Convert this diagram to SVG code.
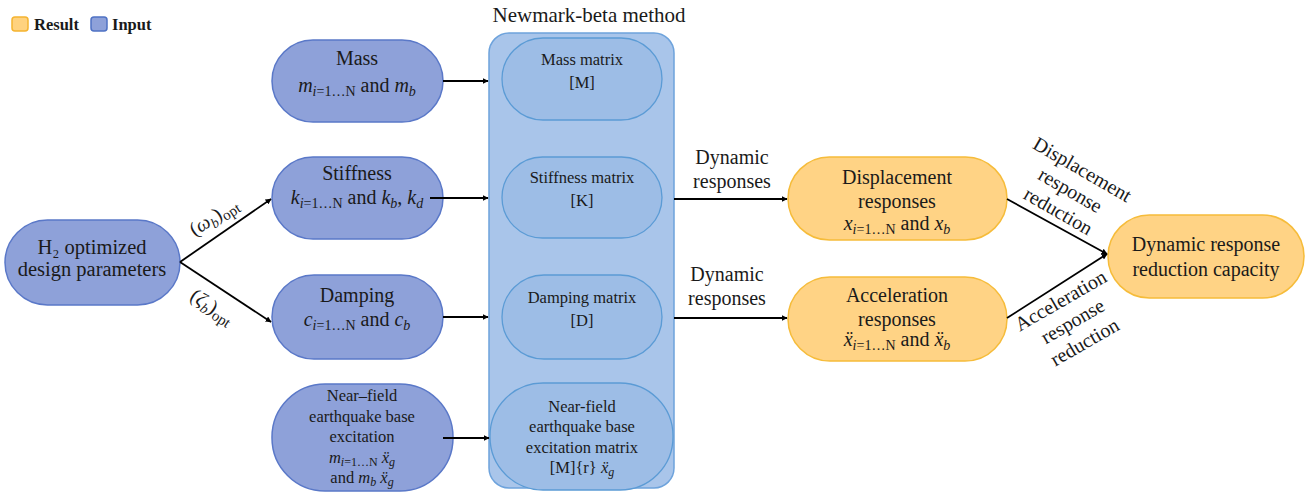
<svg xmlns="http://www.w3.org/2000/svg" width="1306" height="496" viewBox="0 0 1306 496" font-family="'Liberation Serif', Tinos, 'Times New Roman', 'DejaVu Serif', serif">
<style>
text{font-family:"Liberation Serif",Tinos,"Times New Roman","DejaVu Serif",serif;fill:#1a1a1a}
.t20{font-size:20px}
.t16{font-size:16.5px}
.mi{font-style:italic}
.inp{fill:#8EA1D9;stroke:#5A78C8;stroke-width:1.5}
.res{fill:#FFD385;stroke:#F6BC3A;stroke-width:1.5}
.mat{fill:#9DBDE6;stroke:#5B9BD5;stroke-width:1.3}
.box{fill:#A9C5EA;stroke:#6EA3DC;stroke-width:1.5}
.c{stroke:#000;stroke-width:1.8;fill:none;marker-end:url(#ah)}
</style>
<defs>
<marker id="ah" viewBox="0 0 10 10" refX="9" refY="5" markerWidth="6" markerHeight="6" orient="auto" markerUnits="userSpaceOnUse">
<path d="M0,0 L10,5 L0,10 z" fill="#000"/>
</marker>
</defs>
<rect width="1306" height="496" fill="#fff"/>

<g id="legend">
<rect x="12" y="17" width="16" height="14" rx="3" fill="#FFD27F" stroke="#F5B431" stroke-width="1.5"/>
<text x="34" y="30" font-size="16.5" font-weight="bold">Result</text>
<rect x="91" y="17" width="16" height="14" rx="3" fill="#8EA1D9" stroke="#4F72C4" stroke-width="1.5"/>
<text x="112" y="30" font-size="16.5" font-weight="bold">Input</text>
</g>

<g id="newmark">
<rect class="box" x="489" y="33" width="185" height="455" rx="20"/>
<text x="589" y="22" font-size="21" text-anchor="middle">Newmark-beta method</text>
</g>

<g id="h2">
<rect class="inp" x="5" y="220" width="175" height="85" rx="42.5"/>
<text x="92" y="254" text-anchor="middle" font-size="20.5">H₂ optimized</text>
<text x="92" y="276" text-anchor="middle" font-size="20.5">design parameters</text>
</g>

<g id="mass">
<rect class="inp" x="272" y="40" width="171" height="82" rx="41"/>
<text class="t20" x="357" y="65" text-anchor="middle">Mass</text>
<text class="t20" x="357" y="92" text-anchor="middle"><tspan class="mi">m</tspan><tspan font-size="14" dy="4"><tspan class="mi">i</tspan>=1…N</tspan><tspan dy="-4"> and </tspan><tspan class="mi">m</tspan><tspan class="mi" font-size="14" dy="4">b</tspan></text>
</g>

<g id="stiffness">
<rect class="inp" x="272" y="157" width="171" height="82" rx="41"/>
<text class="t20" x="357" y="180" text-anchor="middle">Stiffness</text>
<text class="t20" x="357" y="204" text-anchor="middle"><tspan class="mi">k</tspan><tspan font-size="14" dy="4"><tspan class="mi">i</tspan>=1…N</tspan><tspan dy="-4"> and </tspan><tspan class="mi">k</tspan><tspan class="mi" font-size="14" dy="4">b</tspan><tspan dy="-4">, </tspan><tspan class="mi">k</tspan><tspan class="mi" font-size="14" dy="4">d</tspan></text>
</g>

<g id="damping">
<rect class="inp" x="272" y="275" width="171" height="84" rx="42"/>
<text class="t20" x="357" y="302" text-anchor="middle">Damping</text>
<text class="t20" x="357" y="326" text-anchor="middle"><tspan class="mi">c</tspan><tspan font-size="14" dy="4"><tspan class="mi">i</tspan>=1…N</tspan><tspan dy="-4"> and </tspan><tspan class="mi">c</tspan><tspan class="mi" font-size="14" dy="4">b</tspan></text>
</g>

<g id="nearfield">
<rect class="inp" x="272" y="384" width="181" height="107" rx="53"/>
<text class="t16" x="362" y="401" text-anchor="middle">Near–field</text>
<text class="t16" x="362" y="422" text-anchor="middle">earthquake base</text>
<text class="t16" x="362" y="442" text-anchor="middle">excitation</text>
<text class="t16" x="362" y="463" text-anchor="middle"><tspan class="mi">m</tspan><tspan font-size="12" dy="3"><tspan class="mi">i</tspan>=1…N</tspan><tspan dy="-3"> </tspan><tspan class="mi">ẍ</tspan><tspan class="mi" font-size="12" dy="3">g</tspan></text>
<text class="t16" x="362" y="483" text-anchor="middle">and <tspan class="mi">m</tspan><tspan class="mi" font-size="12" dy="3">b</tspan><tspan dy="-3"> </tspan><tspan class="mi">ẍ</tspan><tspan class="mi" font-size="12" dy="3">g</tspan></text>
</g>

<g id="massmatrix">
<rect class="mat" x="502" y="38" width="160" height="82" rx="41"/>
<text class="t16" x="582" y="65" text-anchor="middle">Mass matrix</text>
<text class="t16" x="582" y="88" text-anchor="middle">[M]</text>
</g>

<g id="stiffmatrix">
<rect class="mat" x="502" y="157" width="160" height="81" rx="40.5"/>
<text class="t16" x="582" y="183" text-anchor="middle">Stiffness matrix</text>
<text class="t16" x="582" y="206" text-anchor="middle">[K]</text>
</g>

<g id="dampmatrix">
<rect class="mat" x="502" y="275" width="160" height="84" rx="42"/>
<text class="t16" x="582" y="303" text-anchor="middle">Damping matrix</text>
<text class="t16" x="582" y="326" text-anchor="middle">[D]</text>
</g>

<g id="nfmatrix">
<rect class="mat" x="490" y="383" width="183" height="107" rx="53"/>
<text class="t16" x="582" y="412" text-anchor="middle">Near-field</text>
<text class="t16" x="582" y="432" text-anchor="middle">earthquake base</text>
<text class="t16" x="582" y="453" text-anchor="middle">excitation matrix</text>
<text class="t16" x="582" y="473" text-anchor="middle">[M]{r} <tspan class="mi">ẍ</tspan><tspan class="mi" font-size="12" dy="3">g</tspan></text>
</g>

<g id="displacement">
<rect class="res" x="788" y="157" width="219" height="83" rx="41.5"/>
<text class="t20" x="897" y="184" text-anchor="middle">Displacement</text>
<text class="t20" x="897" y="208" text-anchor="middle">responses</text>
<text class="t20" x="897" y="230" text-anchor="middle"><tspan class="mi">x</tspan><tspan font-size="14" dy="4"><tspan class="mi">i</tspan>=1…N</tspan><tspan dy="-4"> and </tspan><tspan class="mi">x</tspan><tspan class="mi" font-size="14" dy="4">b</tspan></text>
</g>

<g id="acceleration">
<rect class="res" x="788" y="277" width="219" height="84" rx="42"/>
<text class="t20" x="897" y="302" text-anchor="middle">Acceleration</text>
<text class="t20" x="897" y="326" text-anchor="middle">responses</text>
<text class="t20" x="897" y="346" text-anchor="middle"><tspan class="mi">ẍ</tspan><tspan font-size="14" dy="4"><tspan class="mi">i</tspan>=1…N</tspan><tspan dy="-4"> and </tspan><tspan class="mi">ẍ</tspan><tspan class="mi" font-size="14" dy="4">b</tspan></text>
</g>

<g id="capacity">
<rect class="res" x="1108" y="215" width="196" height="83" rx="41.5"/>
<text class="t20" x="1206" y="251" text-anchor="middle">Dynamic response</text>
<text class="t20" x="1206" y="276" text-anchor="middle">reduction capacity</text>
</g>

<g id="connectors">
<line class="c" x1="180" y1="262" x2="271" y2="199"/>
<line class="c" x1="180" y1="262" x2="271" y2="322"/>
<line class="c" x1="443" y1="81" x2="488" y2="81"/>
<line class="c" x1="430" y1="198" x2="488" y2="198"/>
<line class="c" x1="443" y1="317" x2="488" y2="317"/>
<line class="c" x1="443" y1="438" x2="489" y2="438"/>
<line class="c" x1="674" y1="199" x2="787" y2="199"/>
<line class="c" x1="674" y1="318" x2="787" y2="318"/>
<line class="c" x1="1007" y1="199" x2="1107" y2="254"/>
<line class="c" x1="1007" y1="318" x2="1107" y2="254"/>
<text x="214" y="223" font-size="20" text-anchor="middle" transform="rotate(-33 214 217)">(<tspan class="mi">ω</tspan><tspan class="mi" font-size="14" dy="4">b</tspan><tspan dy="-4">)</tspan><tspan font-size="15" dy="4">opt</tspan></text>
<text x="212" y="313" font-size="20" text-anchor="middle" transform="rotate(33 212 307)">(<tspan class="mi">ζ</tspan><tspan class="mi" font-size="14" dy="4">b</tspan><tspan dy="-4">)</tspan><tspan font-size="15" dy="4">opt</tspan></text>
<text class="t20" x="732" y="164" text-anchor="middle">Dynamic</text>
<text class="t20" x="732" y="188" text-anchor="middle">responses</text>
<text class="t20" x="727" y="281" text-anchor="middle">Dynamic</text>
<text class="t20" x="727" y="305" text-anchor="middle">responses</text>
<g transform="rotate(30 1082 170)">
<text class="t20" x="1082" y="176" text-anchor="middle">Displacement</text>
<text class="t20" x="1082" y="200" text-anchor="middle">response</text>
<text class="t20" x="1082" y="224" text-anchor="middle">reduction</text>
</g>
<g transform="rotate(-30 1061 301)">
<text class="t20" x="1061" y="307" text-anchor="middle">Acceleration</text>
<text class="t20" x="1061" y="331" text-anchor="middle">response</text>
<text class="t20" x="1061" y="355" text-anchor="middle">reduction</text>
</g>
</g>
</svg>
